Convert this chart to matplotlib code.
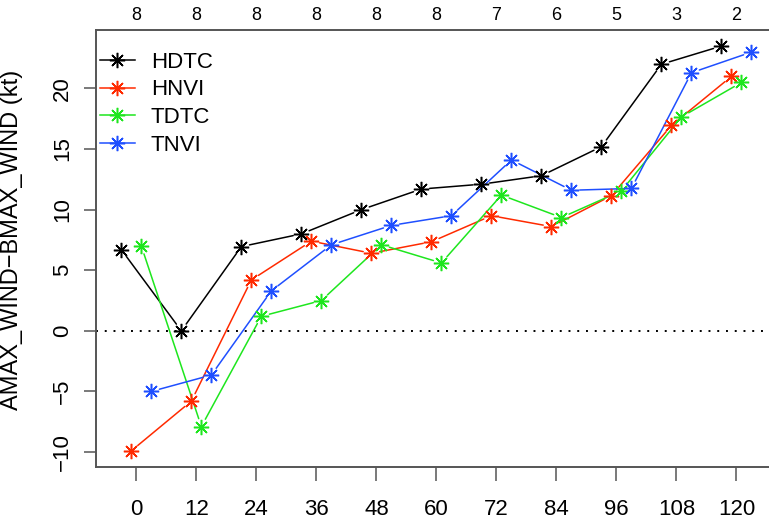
import matplotlib
matplotlib.use("Agg")
import matplotlib.pyplot as plt
from matplotlib.lines import Line2D

plt.rcParams["font.family"] = ["Liberation Sans Narrow", "Liberation Sans", "DejaVu Sans"]

# forecast hours and sample counts per hour
hours = [0, 12, 24, 36, 48, 60, 72, 84, 96, 108, 120]
counts = [8, 8, 8, 8, 8, 8, 7, 6, 5, 3, 2]

# mean intensity error (kt) for each model
hdtc = [6.7, 0.0, 6.95, 8.0, 10.0, 11.7, 12.1, 12.8, 15.2, 22.0, 23.5]
hnvi = [-9.9, -5.8, 4.2, 7.4, 6.4, 7.35, 9.5, 8.6, 11.15, 16.95, 21.0]
tdtc = [7.0, -7.9, 1.2, 2.5, 7.1, 5.6, 11.2, 9.35, 11.55, 17.65, 20.5]
tnvi = [-5.0, -3.65, 3.3, 7.1, 8.7, 9.5, 14.1, 11.6, 11.75, 21.3, 23.0]

names = ["HDTC", "HNVI", "TDTC", "TNVI"]
series = [hdtc, hnvi, tdtc, tnvi]
colors = ["black", "#ff2a00", "#1ee61e", "#1f4fff"]
offsets = [-3, -1, 1, 3]

ast = (8, 2, 0)  # R pch=8 style asterisk

fig = plt.figure(figsize=(7.69, 5.23), dpi=100)
ax = fig.add_axes([0.125, 0.107, 0.885, 0.836])

ax.set_xlim(-8.04, 128.04)
ax.set_ylim(-11.24, 24.84)

ax.axhline(0, color="black", lw=1.4, ls=(0, (1, 3.5)), zorder=1)

for vals, col, off in zip(series, colors, offsets):
    xs = [h + off for h in hours]
    # type="b": line segments with gaps around the points
    for i in range(len(xs) - 1):
        ax.annotate("", xy=(xs[i + 1], vals[i + 1]), xytext=(xs[i], vals[i]),
                    arrowprops=dict(arrowstyle="-", color=col, lw=1.1,
                                    shrinkA=6, shrinkB=6), zorder=2)
    ax.plot(xs, vals, ls="none", marker=ast, ms=11, mew=1.1,
            color=col, zorder=3)

ax.set_xticks(hours)
ax.set_yticks([-10, -5, 0, 5, 10, 15, 20])
ax.tick_params(axis="both", width=1.1, color="#555555", labelsize=16)
ax.tick_params(axis="x", length=10, pad=13)
ax.tick_params(axis="y", length=8.5, pad=8)
for lab in ax.get_yticklabels():
    lab.set_rotation(90)
    lab.set_va("center")
ax.set_ylabel("AMAX_WIND\u2212BMAX_WIND (kt)", fontsize=17,
              family=["Liberation Sans", "DejaVu Sans"])
ax.yaxis.set_label_coords(-0.107, 0.52)

for sp in ax.spines.values():
    sp.set_color("#555555")
    sp.set_linewidth(1.4)

top = ax.secondary_xaxis("top")
top.set_xticks(hours)
top.set_xticklabels([str(c) for c in counts])
top.tick_params(length=0, labelsize=13, pad=4)
top.spines["top"].set_visible(False)

handles = [Line2D([], [], color=c, lw=1.1, marker=ast, ms=11, mew=1.1)
           for c in colors]
ax.legend(handles, names, loc="upper left", frameon=False, fontsize=16,
          handlelength=1.6, handletextpad=0.7, labelspacing=0.3,
          borderaxespad=0.0, bbox_to_anchor=(-0.008, 0.97))

fig.savefig("out.png", dpi=100)
